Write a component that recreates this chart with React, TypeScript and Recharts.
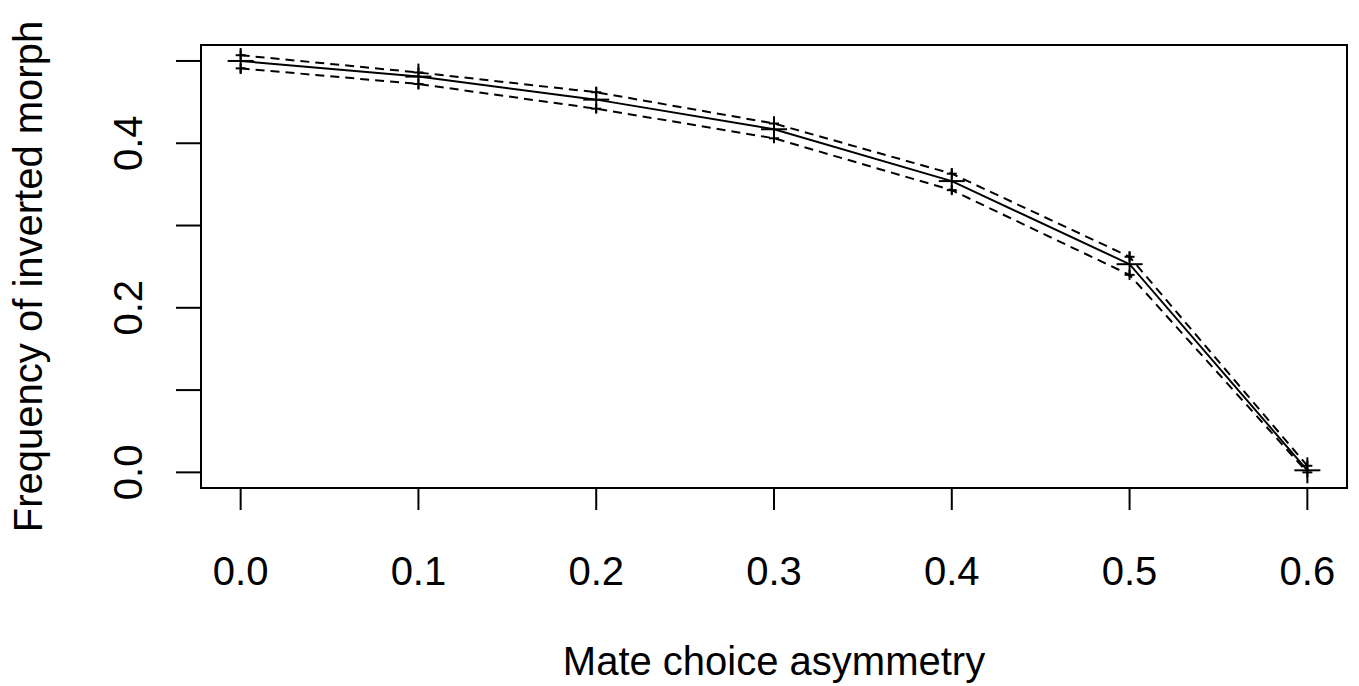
import React from "react";
import { LineChart, Line, XAxis, YAxis, Label, ReferenceArea } from "recharts";

const asymmetry = [0, 0.1, 0.2, 0.3, 0.4, 0.5, 0.6];
const meanFreq = [0.5, 0.481, 0.453, 0.417, 0.354, 0.253, 0.0025];
const upperFreq = [0.507, 0.486, 0.462, 0.424, 0.363, 0.262, 0.008];
const lowerFreq = [0.491, 0.472, 0.442, 0.406, 0.343, 0.24, 0.0];

const xTicks = [0, 0.1, 0.2, 0.3, 0.4, 0.5, 0.6];
const yTicks = [0, 0.1, 0.2, 0.3, 0.4, 0.5];
const yLabelTicks = [0, 0.2, 0.4];

const xDomain = [-0.0223, 0.6223];
const yDomain = [-0.019, 0.5194];

const xTitle = "Mate choice asymmetry";
const yTitle = "Frequency of inverted morph";

const data = asymmetry.map((x, i) => ({
  x,
  mean: meanFreq[i],
  upper: upperFreq[i],
  lower: lowerFreq[i],
}));

const FONT = "'Liberation Sans', Arial, Helvetica, sans-serif";

const Plus = ({ cx, cy, s }: { cx: number; cy: number; s: number }) => (
  <g>
    <line x1={cx - s} y1={cy} x2={cx + s} y2={cy} stroke="#000" strokeWidth={2} />
    <line x1={cx} y1={cy - s} x2={cx} y2={cy + s} stroke="#000" strokeWidth={2} />
  </g>
);

const XTick = (props: any) => {
  const { x, y, payload } = props;
  return (
    <text x={x} y={y + 75} textAnchor="middle" fontFamily={FONT} fontSize={40} fill="#000">
      {payload.value.toFixed(1)}
    </text>
  );
};

const YTick = (props: any) => {
  const { y, payload } = props;
  const v = payload.value;
  if (!yLabelTicks.some((t) => Math.abs(t - v) < 1e-9)) return <g />;
  const bx = 142;
  return (
    <text
      x={bx}
      y={y}
      textAnchor="middle"
      fontFamily={FONT}
      fontSize={40}
      fill="#000"
      transform={`rotate(-90, ${bx}, ${y})`}
    >
      {v.toFixed(1)}
    </text>
  );
};

export default function App() {
  return (
    <div style={{ position: "absolute", left: 0, top: 0, width: 1359, height: 686, background: "#fff" }}>
      <LineChart width={1359} height={686} data={data} margin={{ top: 45, right: 12, bottom: 0, left: 0 }}>
        <XAxis
          dataKey="x"
          type="number"
          domain={xDomain}
          ticks={xTicks}
          interval={0}
          allowDataOverflow
          height={198}
          tickSize={22}
          tickMargin={0}
          tick={<XTick />}
          axisLine={{ stroke: "#000", strokeWidth: 2 }}
          tickLine={{ stroke: "#000", strokeWidth: 2 }}
        >
          <Label
            content={(p: any) => {
              const vb = p.viewBox;
              return (
                <text x={vb.x + vb.width / 2} y={vb.y + 187} textAnchor="middle" fontFamily={FONT} fontSize={40} fill="#000">
                  {xTitle}
                </text>
              );
            }}
          />
        </XAxis>
        <YAxis
          type="number"
          domain={yDomain}
          ticks={yTicks}
          interval={0}
          allowDataOverflow
          width={201}
          tickSize={25}
          tickMargin={0}
          tick={<YTick />}
          axisLine={{ stroke: "#000", strokeWidth: 2 }}
          tickLine={{ stroke: "#000", strokeWidth: 2 }}
        >
          <Label
            content={(p: any) => {
              const vb = p.viewBox;
              const cy = vb.y + vb.height / 2 + 10;
              const bx = 42;
              return (
                <text
                  x={bx}
                  y={cy}
                  textAnchor="middle"
                  fontFamily={FONT}
                  fontSize={40}
                  fill="#000"
                  transform={`rotate(-90, ${bx}, ${cy})`}
                >
                  {yTitle}
                </text>
              );
            }}
          />
        </YAxis>
        <ReferenceArea
          x1={xDomain[0]}
          x2={xDomain[1]}
          y1={yDomain[0]}
          y2={yDomain[1]}
          fill="none"
          fillOpacity={0}
          stroke="#000"
          strokeWidth={2}
          ifOverflow="visible"
        />
        <Line
          dataKey="upper"
          stroke="#000"
          strokeWidth={2}
          strokeDasharray="9 6"
          isAnimationActive={false}
          activeDot={false}
          dot={(p: any) => <Plus key={`u${p.index}`} cx={p.cx} cy={p.cy} s={5} />}
        />
        <Line
          dataKey="lower"
          stroke="#000"
          strokeWidth={2}
          strokeDasharray="9 6"
          isAnimationActive={false}
          activeDot={false}
          dot={(p: any) => <Plus key={`l${p.index}`} cx={p.cx} cy={p.cy} s={5} />}
        />
        <Line
          dataKey="mean"
          stroke="#000"
          strokeWidth={2}
          isAnimationActive={false}
          activeDot={false}
          dot={(p: any) => <Plus key={`m${p.index}`} cx={p.cx} cy={p.cy} s={13} />}
        />
      </LineChart>
    </div>
  );
}
